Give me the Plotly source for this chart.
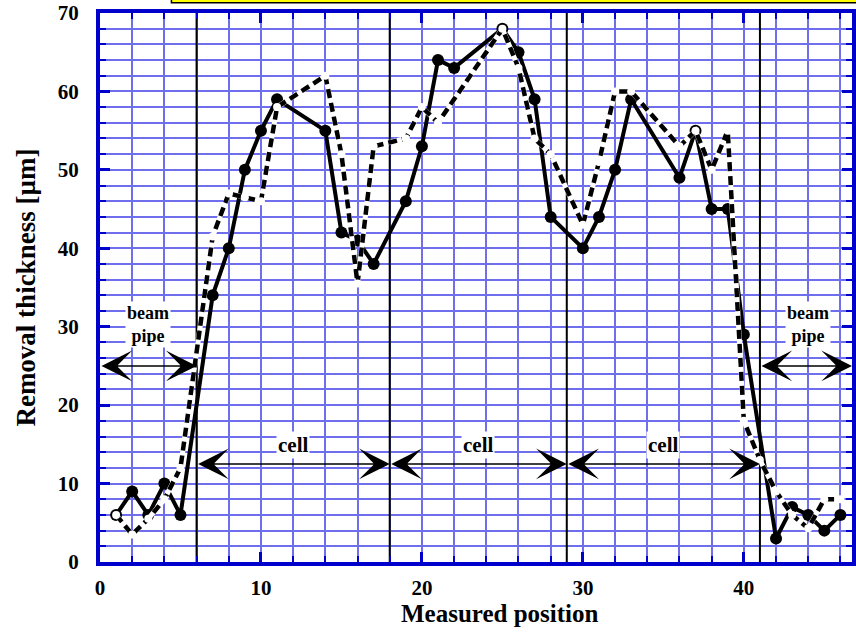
import plotly.graph_objects as go

# ---- data ----
solid_x = [1, 2, 3, 4, 5, 7, 8, 9, 10, 11, 14, 15, 16, 17, 19, 20, 21, 22, 25, 26, 27, 28,
           30, 31, 32, 33, 36, 37, 38, 39, 40, 42, 43, 44, 45, 46]
solid_y = [6, 9, 6, 10, 6, 34, 40, 50, 55, 59, 55, 42, 41, 38, 46, 53, 64, 63, 68, 65, 59, 44,
           40, 44, 50, 59, 49, 55, 45, 45, 29, 3, 7, 6, 4, 6]

dash_x = [1, 2, 3, 4, 5, 7, 8, 9, 10, 11, 14, 15, 16, 17, 19, 20, 21, 25, 26, 27, 28,
          30, 31, 32, 33, 36, 37, 38, 39, 40, 41, 42, 43, 44, 45, 46]
dash_y = [6, 3.5, 5.5, 8, 12, 41.5, 47, 46.5, 46, 58, 62, 52, 35.5, 53, 54, 58, 56, 68, 63, 54, 52,
          43, 51, 60, 60, 53, 55, 50, 55, 18, 13, 9, 6, 4.3, 8, 8]

boundaries = [6, 18, 29, 41]
cell_label = "cell"
cell_text_x = [12, 23.5, 35]
beam_label = "beam<br>pipe"
x_title = "Measured position"
y_title = "Removal thickness [µm]"

x_max = 46.72
y_max = 70

BLUE = "#0000cc"
GRID = "#6f6fee"
FONT = "Liberation Serif"

fig = go.Figure()

# boundary lines
for b in boundaries:
    fig.add_trace(go.Scatter(x=[b, b], y=[0, y_max], mode="lines",
                             line=dict(color="black", width=2), hoverinfo="skip", showlegend=False))

# solid series
fig.add_trace(go.Scatter(x=solid_x, y=solid_y, mode="lines+markers",
                         line=dict(color="black", width=4),
                         marker=dict(color="black", size=12), showlegend=False))

# dashed series: white underlay + black dashes, white markers
fig.add_trace(go.Scatter(x=dash_x, y=dash_y, mode="lines",
                         line=dict(color="white", width=5), hoverinfo="skip", showlegend=False))
fig.add_trace(go.Scatter(x=dash_x, y=dash_y, mode="lines+markers",
                         line=dict(color="black", width=4.5, dash="9px,5px"),
                         marker=dict(color="white", size=8, line=dict(width=0)),
                         showlegend=False))

TXT = dict(family=FONT, color="black", weight="bold")
annotations = []
arrow = dict(xref="x", yref="y", axref="x", ayref="y", text="", showarrow=True,
             arrowside="end+start", arrowhead=3, startarrowhead=3,
             arrowsize=3.2, startarrowsize=3.2, arrowwidth=1.6, arrowcolor="black",
             standoff=0, startstandoff=0)
# cell arrows
for i in range(3):
    x0, x1 = boundaries[i], boundaries[i + 1]
    annotations.append(dict(x=x1, y=12.5, ax=x0, ay=12.5, **arrow))
    annotations.append(dict(x=cell_text_x[i], y=14.9, xref="x", yref="y", text=cell_label,
                            showarrow=False, bgcolor="white", font=dict(size=21, **TXT)))

# beam pipe arrows
for (x0, x1, tx) in [(0, 6, 3), (41, x_max, 44)]:
    annotations.append(dict(x=x1, y=25, ax=x0, ay=25, **arrow))
    annotations.append(dict(x=tx, y=30.3, xref="x", yref="y", text=beam_label, showarrow=False,
                            bgcolor="white", font=dict(size=18, **TXT)))

# axis titles
annotations.append(dict(x=0.532, y=-0.094, xref="paper", yref="paper", text=x_title,
                        showarrow=False, xanchor="center", yanchor="middle", font=dict(size=25, **TXT)))
annotations.append(dict(x=-0.099, y=0.499, xref="paper", yref="paper", text=y_title, textangle=-90,
                        showarrow=False, xanchor="center", yanchor="middle", font=dict(size=27, **TXT)))

axis_common = dict(
    showline=True, linecolor=BLUE, linewidth=4, mirror="allticks",
    ticks="inside", ticklen=10, tickwidth=3, tickcolor=BLUE,
    showgrid=True, gridcolor=GRID, gridwidth=1.5, zeroline=False,
    tickfont=dict(size=21, **TXT),
    range=[0, 1], dtick=10, tick0=0,
    minor=dict(dtick=2, ticks="inside", ticklen=6, tickwidth=2, tickcolor=BLUE,
               showgrid=True, gridcolor=GRID, gridwidth=1.5),
)

fig.update_layout(
    width=856, height=632,
    margin=dict(l=100, r=0, t=13, b=70),
    paper_bgcolor="white", plot_bgcolor="white",
    font=dict(family=FONT, color="black"),
    annotations=annotations,
    xaxis=dict(axis_common, range=[0, x_max], ticklabelstandoff=4),
    yaxis=dict(axis_common, range=[0, y_max], ticklabelstandoff=13),
    shapes=[dict(type="rect", xref="paper", yref="paper", x0=0.095, x1=1.01, y0=1.0185, y1=1.1,
                 fillcolor="#ffff00", line=dict(color="black", width=1.5), layer="above")],
)

fig.write_html("out.html")
